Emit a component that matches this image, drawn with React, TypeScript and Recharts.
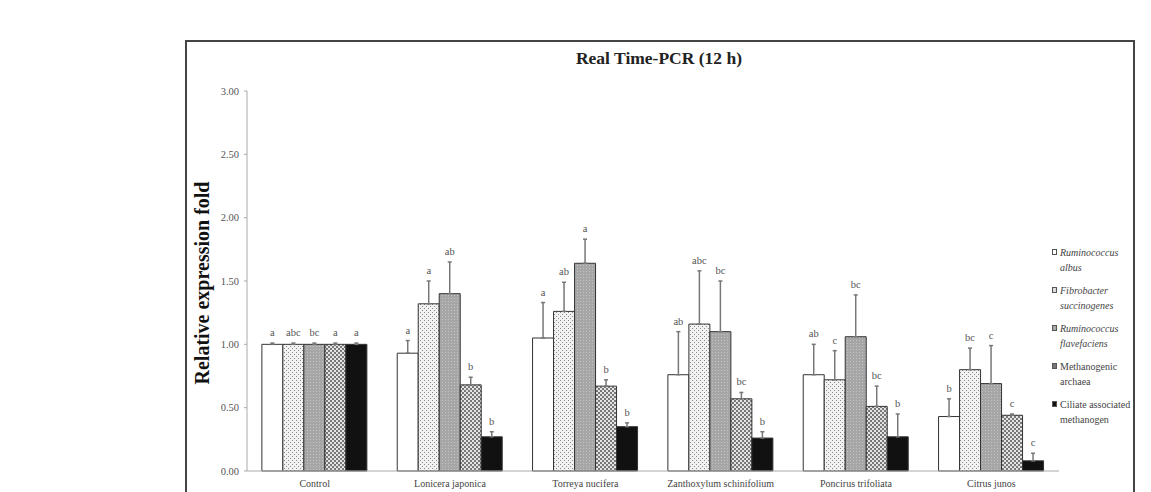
import { BarChart, Bar, XAxis, YAxis, ErrorBar, LabelList } from 'recharts'

const categories = ['Control', 'Lonicera japonica', 'Torreya nucifera', 'Zanthoxylum schinifolium', 'Poncirus trifoliata', 'Citrus junos']

// relative expression fold (mean), SE and significance letters per target
const albus = [1.0, 0.93, 1.05, 0.76, 0.76, 0.43]
const albusErr = [0.01, 0.1, 0.28, 0.34, 0.24, 0.14]
const albusSig = ['a', 'a', 'a', 'ab', 'ab', 'b']

const fibrobacter = [1.0, 1.32, 1.26, 1.16, 0.72, 0.8]
const fibrobacterErr = [0.01, 0.18, 0.23, 0.42, 0.23, 0.17]
const fibrobacterSig = ['abc', 'a', 'ab', 'abc', 'c', 'bc']

const flavefaciens = [1.0, 1.4, 1.64, 1.1, 1.06, 0.69]
const flavefaciensErr = [0.01, 0.25, 0.19, 0.4, 0.33, 0.3]
const flavefaciensSig = ['bc', 'ab', 'a', 'bc', 'bc', 'c']

const methanogenic = [1.0, 0.68, 0.67, 0.57, 0.51, 0.44]
const methanogenicErr = [0.01, 0.06, 0.05, 0.05, 0.16, 0.01]
const methanogenicSig = ['a', 'b', 'b', 'bc', 'bc', 'c']

const ciliate = [1.0, 0.27, 0.35, 0.26, 0.27, 0.08]
const ciliateErr = [0.01, 0.04, 0.03, 0.05, 0.18, 0.06]
const ciliateSig = ['a', 'b', 'b', 'b', 'b', 'c']

const yTicks = [0, 0.5, 1, 1.5, 2, 2.5, 3]

const series = [
  { key: 'albus', values: albus, err: albusErr, sig: albusSig, fill: '#ffffff', name: ['Ruminococcus', 'albus'], italic: true },
  { key: 'fibrobacter', values: fibrobacter, err: fibrobacterErr, sig: fibrobacterSig, fill: 'url(#dots)', name: ['Fibrobacter', 'succinogenes'], italic: true },
  { key: 'flavefaciens', values: flavefaciens, err: flavefaciensErr, sig: flavefaciensSig, fill: 'url(#grey)', name: ['Ruminococcus', 'flavefaciens'], italic: true },
  { key: 'methanogenic', values: methanogenic, err: methanogenicErr, sig: methanogenicSig, fill: 'url(#check)', name: ['Methanogenic', 'archaea'], italic: false },
  { key: 'ciliate', values: ciliate, err: ciliateErr, sig: ciliateSig, fill: '#111111', name: ['Ciliate associated', 'methanogen'], italic: false },
]

const data = categories.map((c, i) => {
  const row: Record<string, any> = { name: c }
  series.forEach(s => {
    row[s.key] = s.values[i]
    row[s.key + 'Err'] = [0, s.err[i]]
    row[s.key + 'Sig'] = s.sig[i]
  })
  return row
})

const serif = '"Liberation Serif", "Times New Roman", serif'

// letter sits just above the top of the error bar
function sigLabel(values: number[], err: number[]) {
  return (props: any) => {
    const { x, y, width, height, value, index } = props
    const pxPerUnit = height / values[index]
    const top = y - err[index] * pxPerUnit
    return (
      <text x={x + width / 2} y={top - 7} textAnchor="middle" fontFamily={serif} fontSize={10.5} fill="#555">
        {value}
      </text>
    )
  }
}

function LegendBox() {
  const swatch = ['#fff', '#ddd', '#aaa', '#777', '#111']
  return (
    <div style={{ position: 'absolute', left: 1052, top: 245, fontFamily: serif, fontSize: 10, color: '#444', lineHeight: '15px' }}>
      {series.map((s, i) => (
        <div key={s.key} style={{ marginBottom: 8, position: 'relative', paddingLeft: 8 }}>
          <span style={{ position: 'absolute', left: 0, top: 4, width: 5, height: 6, background: swatch[i], border: '1px solid #555', boxSizing: 'border-box' }} />
          <div style={{ fontStyle: s.italic ? 'italic' : 'normal' }}>{s.name[0]}</div>
          <div style={{ fontStyle: s.italic ? 'italic' : 'normal' }}>{s.name[1]}</div>
        </div>
      ))}
    </div>
  )
}

export default function App() {
  return (
    <div style={{ position: 'absolute', left: 0, top: 0, width: 1151, height: 492, overflow: 'hidden', background: '#fff' }}>
      <div style={{ position: 'absolute', left: 185, top: 40, width: 946, height: 480, border: '2.5px solid #444' }} />
      <div style={{ position: 'absolute', left: 559, top: 48, width: 200, textAlign: 'center', fontFamily: serif, fontWeight: 'bold', fontSize: 17.5, color: '#222' }}>
        Real Time-PCR (12 h)
      </div>
      <div style={{ position: 'absolute', left: 202, top: 283, transform: 'translate(-50%, -50%) rotate(-90deg)', whiteSpace: 'nowrap', fontFamily: serif, fontWeight: 'bold', fontSize: 20, color: '#111' }}>
        Relative expression fold
      </div>
      <div style={{ position: 'absolute', left: 0, top: 0 }}>
        <BarChart width={1151} height={520} data={data} margin={{ top: 91, right: 92, bottom: 19, left: 187 }} barCategoryGap="11%" barGap={0}>
          <defs>
            <pattern id="dots" width="4" height="4" patternUnits="userSpaceOnUse">
              <rect width="4" height="4" fill="#f2f2f2" />
              <rect x="0" y="0" width="1" height="1" fill="#888" />
              <rect x="2" y="2" width="1" height="1" fill="#888" />
            </pattern>
            <pattern id="grey" width="3" height="3" patternUnits="userSpaceOnUse">
              <rect width="3" height="3" fill="#a6a6a6" />
              <rect x="1" y="1" width="1" height="1" fill="#c4c4c4" />
            </pattern>
            <pattern id="check" width="4" height="4" patternUnits="userSpaceOnUse">
              <rect width="4" height="4" fill="#777" />
              <rect x="0" y="0" width="2" height="2" fill="#e4e4e4" />
              <rect x="2" y="2" width="2" height="2" fill="#e4e4e4" />
            </pattern>
          </defs>
          <XAxis
            dataKey="name"
            tickLine={false}
            tickSize={0}
            tickMargin={9}
            axisLine={{ stroke: '#aaa' }}
            height={30}
            interval={0}
            tick={{ fontFamily: serif, fontSize: 10, fill: '#444' }}
          />
          <YAxis
            domain={[0, 3]}
            ticks={yTicks}
            width={60}
            tickSize={3}
            tickMargin={5}
            axisLine={{ stroke: '#aaa' }}
            tickLine={{ stroke: '#aaa' }}
            tickFormatter={(v: number) => v.toFixed(2)}
            tick={{ fontFamily: serif, fontSize: 10.5, fill: '#555' }}
          />
          {series.map(s => (
            <Bar key={s.key} dataKey={s.key} fill={s.fill} stroke="#333" strokeWidth={1} isAnimationActive={false}>
              <ErrorBar dataKey={s.key + 'Err'} direction="y" width={2} stroke="#777" strokeWidth={1.5} />
              <LabelList dataKey={s.key + 'Sig'} content={sigLabel(s.values, s.err)} />
            </Bar>
          ))}
        </BarChart>
      </div>
      <LegendBox />
    </div>
  )
}
